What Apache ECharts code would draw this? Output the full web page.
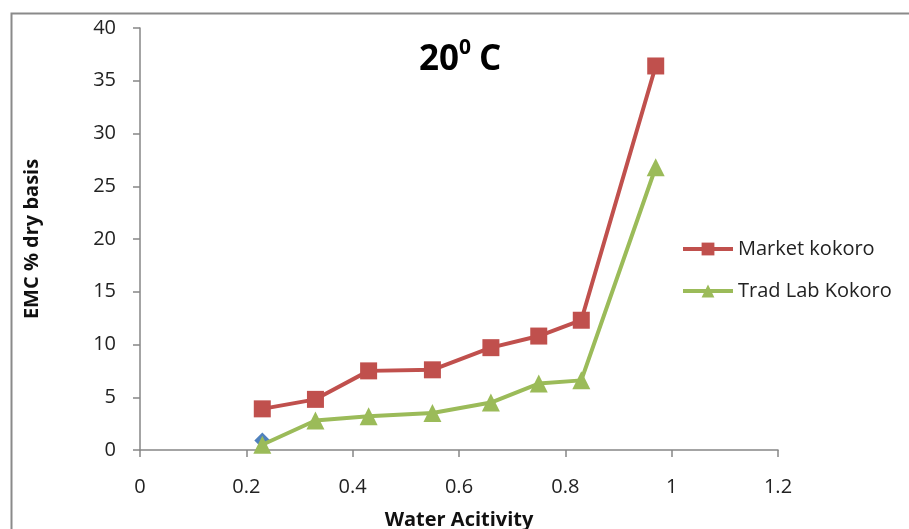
<!DOCTYPE html>
<html>
<head>
<meta charset="utf-8">
<title>EMC 20 C</title>
<script src="https://cdn.jsdelivr.net/npm/echarts@6/dist/echarts.min.js"></script>
<style>
    html, body { margin: 0; padding: 0; background: #fff; }
    #emc_chart { width: 909px; height: 529px; }
</style>
</head>
<body>
<div id="emc_chart"></div>
<script>
// Data
// ------------------------------

var waterActivity = [0.23, 0.33, 0.43, 0.55, 0.66, 0.75, 0.83, 0.97];
var marketKokoro = [3.9, 4.8, 7.5, 7.6, 9.7, 10.8, 12.3, 36.4];
var tradLabKokoro = [0.5, 2.8, 3.2, 3.5, 4.5, 6.3, 6.6, 26.8];
var firstPointX = [0.23];
var firstPointY = [0.9];

var pairs = function(xs, ys) {
    return xs.map(function(x, i) { return [x, ys[i]]; });
};


// Chart
// ------------------------------

document.addEventListener('DOMContentLoaded', function() {
    var emc_element = document.getElementById('emc_chart');
    var emc_chart = echarts.init(emc_element);

    var fontFamily = '"Open Sans", "Noto Sans", Arial, sans-serif';

    emc_chart.setOption({
        animation: false,
        textStyle: {
            fontFamily: fontFamily
        },

        graphic: [
            // Outer chart border
            {
                type: 'rect',
                left: 9,
                top: 11,
                shape: { width: 1000, height: 700 },
                style: { fill: 'none', stroke: '#8a8a8a', lineWidth: 2 },
                silent: true
            },
            // Title: 20 with superscript 0, then C
            {
                type: 'text',
                left: 419,
                top: 43,
                style: { text: '20', font: 'bold 35px ' + fontFamily, fill: '#000' }
            },
            {
                type: 'text',
                left: 459,
                top: 38,
                style: { text: '0', font: 'bold 21px ' + fontFamily, fill: '#000' }
            },
            {
                type: 'text',
                left: 479,
                top: 43,
                style: { text: 'C', font: 'bold 35px ' + fontFamily, fill: '#000' }
            }
        ],

        grid: {
            left: 140,
            right: 131,
            top: 28,
            bottom: 79,
            containLabel: false,
            outerBoundsMode: 'none'
        },

        legend: {
            orient: 'vertical',
            left: 676,
            top: 234,
            itemGap: 22,
            itemWidth: 50,
            itemHeight: 16,
            lineStyle: { width: 4 },
            textStyle: { fontSize: 20, color: '#222', fontFamily: fontFamily },
            data: ['Market kokoro', 'Trad Lab Kokoro']
        },

        xAxis: {
            type: 'value',
            min: 0,
            max: 1.2,
            interval: 0.2,
            name: 'Water Acitivity',
            nameLocation: 'middle',
            nameGap: 60,
            nameTextStyle: { fontSize: 20, fontWeight: 'bold', color: '#111', fontFamily: fontFamily },
            axisLine: { lineStyle: { color: '#868686', width: 1.5 } },
            axisTick: { show: true, length: 7, lineStyle: { color: '#868686', width: 1.5 } },
            axisLabel: { fontSize: 20, color: '#222', margin: 27 },
            splitLine: { show: false }
        },

        yAxis: {
            type: 'value',
            min: 0,
            max: 40,
            interval: 5,
            name: 'EMC % dry basis',
            nameLocation: 'middle',
            nameGap: 98,
            nameTextStyle: { fontSize: 20, fontWeight: 'bold', color: '#111', fontFamily: fontFamily },
            axisLine: { show: true, lineStyle: { color: '#868686', width: 1.5 } },
            axisTick: { show: true, length: 7, lineStyle: { color: '#868686', width: 1.5 } },
            axisLabel: { fontSize: 20, color: '#222', margin: 24 },
            splitLine: { show: false }
        },

        series: [
            {
                name: 'First point',
                type: 'line',
                symbol: 'diamond',
                symbolSize: 16,
                itemStyle: { color: '#4F81BD' },
                lineStyle: { width: 0 },
                data: pairs(firstPointX, firstPointY),
                z: 1
            },
            {
                name: 'Market kokoro',
                type: 'line',
                symbol: 'rect',
                symbolSize: 17,
                itemStyle: { color: '#C0504D' },
                lineStyle: { color: '#C0504D', width: 4 },
                data: pairs(waterActivity, marketKokoro),
                z: 3
            },
            {
                name: 'Trad Lab Kokoro',
                type: 'line',
                symbol: 'triangle',
                symbolSize: 18,
                itemStyle: { color: '#9BBB59' },
                lineStyle: { color: '#9BBB59', width: 4 },
                data: pairs(waterActivity, tradLabKokoro),
                z: 2
            }
        ]
    });
});
</script>
</body>
</html>
